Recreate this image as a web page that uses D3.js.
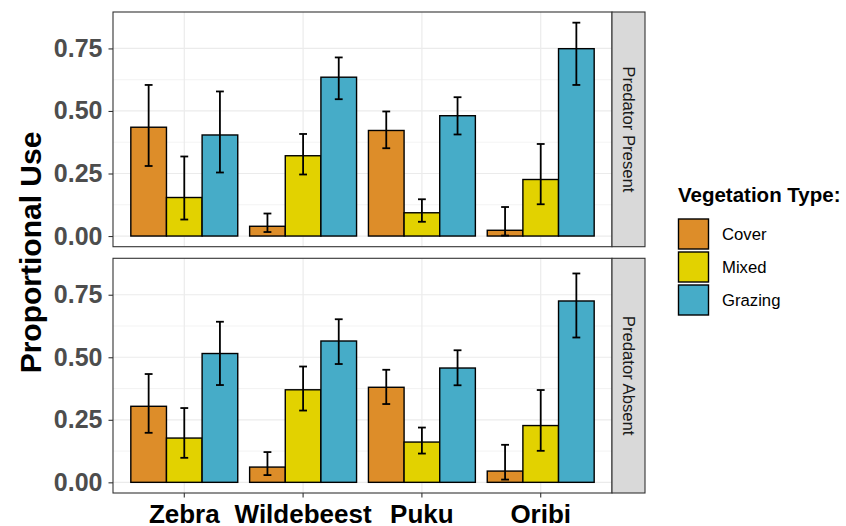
<!DOCTYPE html>
<html>
<head>
<meta charset="utf-8">
<script src="https://cdn.jsdelivr.net/npm/d3@7"></script>
<style>
  body { margin: 0; background: #fff; }
  text { font-family: "Liberation Sans", Arial, sans-serif; }
</style>
</head>
<body>
<div id="chart"></div>
<script>
// data
var species = ["Zebra", "Wildebeest", "Puku", "Oribi"];
var vegTypes = ["Cover", "Mixed", "Grazing"];
var vegColors = ["#DD8D29", "#E2D200", "#46ACC8"];
var panels = ["Predator Present", "Predator Absent"];
var yTicks = [0, 0.25, 0.5, 0.75];

// rows = species, cols = Cover, Mixed, Grazing
var presentMean  = [[0.435, 0.154, 0.404], [0.039, 0.321, 0.635], [0.422, 0.093, 0.481], [0.023, 0.226, 0.749]];
var presentLower = [[0.280, 0.066, 0.254], [0.016, 0.246, 0.547], [0.351, 0.057, 0.406], [0.002, 0.127, 0.604]];
var presentUpper = [[0.604, 0.318, 0.578], [0.090, 0.408, 0.714], [0.498, 0.147, 0.555], [0.116, 0.368, 0.853]];

var absentMean  = [[0.304, 0.177, 0.515], [0.061, 0.370, 0.565], [0.380, 0.161, 0.457], [0.045, 0.227, 0.725]];
var absentLower = [[0.198, 0.098, 0.389], [0.029, 0.287, 0.473], [0.313, 0.115, 0.388], [0.011, 0.126, 0.579]];
var absentUpper = [[0.433, 0.297, 0.642], [0.121, 0.463, 0.652], [0.450, 0.219, 0.528], [0.150, 0.369, 0.835]];

var svgWidth = 846;
var svgHeight = 526;

var panelLeft = 113, panelRight = 612;
var panelTops = [12, 258.3];
var panelH = 234.7;
var stripW = 33;
var width = panelRight - panelLeft;

var svg = d3.select("#chart")
  .append("svg")
  .attr("width", svgWidth)
  .attr("height", svgHeight);

svg.append("rect").attr("width", svgWidth).attr("height", svgHeight).attr("fill", "#fff");

var xScale = d3.scaleBand()
  .domain(species)
  .range([0, width])
  .paddingInner(0)
  .paddingOuter(0.1);

var step = xScale.step();
var dodge = d3.scaleBand()
  .domain(vegTypes)
  .range([-0.45 * step, 0.45 * step]);

var colorScale = d3.scaleOrdinal().domain(vegTypes).range(vegColors);

var yScale = d3.scaleLinear()
  .domain([-0.04265, 0.89565])
  .range([panelH, 0]);

var minorTicks = [0.125, 0.375, 0.625];

function buildRows(mean, lower, upper) {
  var rows = [];
  species.forEach(function(s, i) {
    vegTypes.forEach(function(v, j) {
      rows.push({ species: s, veg: v, mean: mean[i][j], lower: lower[i][j], upper: upper[i][j] });
    });
  });
  return rows;
}

var panelData = [
  buildRows(presentMean, presentLower, presentUpper),
  buildRows(absentMean, absentLower, absentUpper)
];

panels.forEach(function(name, p) {
  var g = svg.append("g")
    .attr("transform", `translate(${panelLeft}, ${panelTops[p]})`);

  // grid
  g.selectAll(".minor").data(minorTicks).enter().append("line")
    .attr("x1", 0).attr("x2", width)
    .attr("y1", d => yScale(d)).attr("y2", d => yScale(d))
    .attr("stroke", "#EBEBEB").attr("stroke-width", 0.6);
  g.selectAll(".major").data(yTicks).enter().append("line")
    .attr("x1", 0).attr("x2", width)
    .attr("y1", d => yScale(d)).attr("y2", d => yScale(d))
    .attr("stroke", "#EBEBEB").attr("stroke-width", 1.2);
  g.selectAll(".vmajor").data(species).enter().append("line")
    .attr("y1", 0).attr("y2", panelH)
    .attr("x1", d => xScale(d) + step / 2).attr("x2", d => xScale(d) + step / 2)
    .attr("stroke", "#EBEBEB").attr("stroke-width", 1.2);

  var rows = panelData[p];

  // bars
  g.selectAll("rect.bar").data(rows).enter().append("rect")
    .attr("class", "bar")
    .attr("x", d => xScale(d.species) + step / 2 + dodge(d.veg))
    .attr("y", d => yScale(d.mean))
    .attr("width", dodge.bandwidth())
    .attr("height", d => yScale(0) - yScale(d.mean))
    .attr("fill", d => colorScale(d.veg))
    .attr("stroke", "#000")
    .attr("stroke-width", 1.4);

  // error bars
  var capW = dodge.bandwidth() * 0.22;
  var eb = g.selectAll("g.err").data(rows).enter().append("g")
    .attr("transform", d => `translate(${xScale(d.species) + step / 2 + dodge(d.veg) + dodge.bandwidth() / 2}, 0)`);
  eb.append("line")
    .attr("x1", 0).attr("x2", 0)
    .attr("y1", d => yScale(d.lower)).attr("y2", d => yScale(d.upper))
    .attr("stroke", "#000").attr("stroke-width", 1.8);
  eb.append("line")
    .attr("x1", -capW / 2).attr("x2", capW / 2)
    .attr("y1", d => yScale(d.lower)).attr("y2", d => yScale(d.lower))
    .attr("stroke", "#000").attr("stroke-width", 1.8);
  eb.append("line")
    .attr("x1", -capW / 2).attr("x2", capW / 2)
    .attr("y1", d => yScale(d.upper)).attr("y2", d => yScale(d.upper))
    .attr("stroke", "#000").attr("stroke-width", 1.8);

  // panel border
  g.append("rect")
    .attr("width", width).attr("height", panelH)
    .attr("fill", "none").attr("stroke", "#333333").attr("stroke-width", 1.1);

  // strip
  g.append("rect")
    .attr("x", width).attr("y", 0)
    .attr("width", stripW).attr("height", panelH)
    .attr("fill", "#D9D9D9").attr("stroke", "#333333").attr("stroke-width", 1.1);
  g.append("text")
    .attr("transform", `translate(${width + stripW / 2}, ${panelH / 2}) rotate(90)`)
    .attr("text-anchor", "middle")
    .attr("dy", "0.35em")
    .attr("fill", "#1A1A1A")
    .style("font-size", "16.7px")
    .text(name);

  // y axis
  var leftAxis = d3.axisLeft(yScale)
    .tickValues(yTicks)
    .tickFormat(d3.format(".2f"))
    .tickSize(4.5)
    .tickPadding(6);
  var ya = g.append("g").call(leftAxis);
  ya.select(".domain").remove();
  ya.selectAll(".tick line").attr("stroke", "#333333").attr("stroke-width", 1.1);
  ya.selectAll(".tick text")
    .attr("fill", "#4D4D4D")
    .style("font-size", "25px")
    .style("font-weight", "bold")
    .style("font-family", "'Liberation Sans', Arial, sans-serif");

  // x axis on the bottom panel only
  if (p === panels.length - 1) {
    var bottomAxis = d3.axisBottom(xScale)
      .tickSize(4.5)
      .tickPadding(7.5);
    var xa = g.append("g")
      .attr("transform", `translate(0, ${panelH})`)
      .call(bottomAxis);
    xa.select(".domain").remove();
    xa.selectAll(".tick line").attr("stroke", "#333333").attr("stroke-width", 1.1);
    xa.selectAll(".tick text")
      .attr("fill", "#000")
      .style("font-size", "26px")
      .style("font-weight", "bold")
      .style("font-family", "'Liberation Sans', Arial, sans-serif");
  }
});

// y axis title
svg.append("text")
  .attr("transform", `translate(30, ${(panelTops[0] + panelTops[1] + panelH) / 2}) rotate(-90)`)
  .attr("text-anchor", "middle")
  .attr("dy", "0.35em")
  .style("font-size", "30px")
  .style("font-weight", "bold")
  .text("Proportional Use");

// legend
var legend = svg.append("g").attr("transform", "translate(678, 0)");
legend.append("text")
  .attr("x", 0).attr("y", 202)
  .style("font-size", "20.5px")
  .style("font-weight", "bold")
  .text("Vegetation Type:");

var keys = legend.selectAll("g.key").data(vegTypes).enter().append("g")
  .attr("transform", (d, i) => `translate(0, ${219 + i * 33})`);
keys.append("rect")
  .attr("x", 0.5).attr("y", 0)
  .attr("width", 30).attr("height", 30)
  .attr("fill", d => colorScale(d))
  .attr("stroke", "#000").attr("stroke-width", 1.4);
keys.append("text")
  .attr("x", 44).attr("y", 15)
  .attr("dy", "0.35em")
  .style("font-size", "16.7px")
  .attr("fill", "#000")
  .text(d => d);
</script>
</body>
</html>
